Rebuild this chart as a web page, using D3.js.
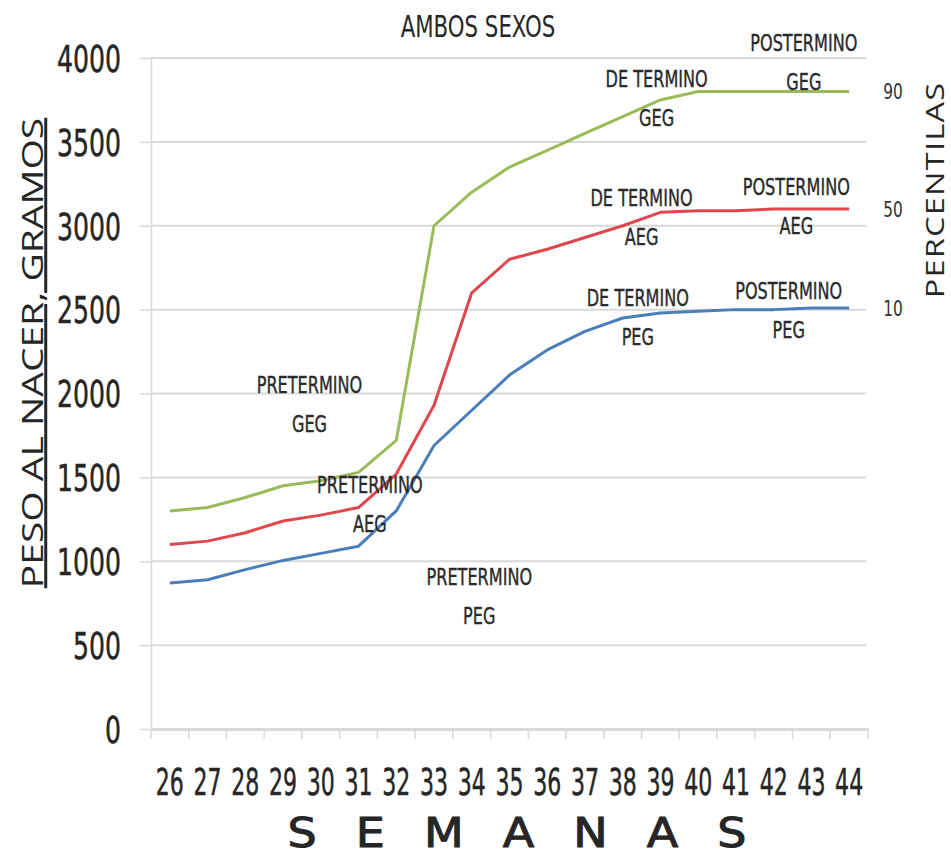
<!DOCTYPE html>
<html><head><meta charset="utf-8">
<script src="https://cdn.jsdelivr.net/npm/d3@7"></script>
<style>
body{margin:0;background:#fff;}
svg{display:block;}
</style></head>
<body><svg id="c" width="951" height="855"></svg>
<script>
const weeks = ["26","27","28","29","30","31","32","33","34","35","36","37","38","39","40","41","42","43","44"];
const p90 = [1300,1320,1380,1450,1480,1530,1720,3000,3200,3350,3450,3550,3650,3750,3800,3800,3800,3800,3800];
const p50 = [1100,1120,1170,1240,1275,1320,1520,1930,2600,2800,2860,2930,3000,3080,3090,3090,3100,3100,3100];
const p10 = [870,890,950,1005,1047,1090,1300,1690,1900,2110,2260,2370,2450,2480,2490,2500,2500,2510,2510];
const yTicks = [0,500,1000,1500,2000,2500,3000,3500,4000];
const seriesNames = ["90","50","10"];
const seriesColors = ["#9bbb59","#e0474c","#4a7ebb"];
const annLine1 = ["PRETERMINO","PRETERMINO","PRETERMINO","DE TERMINO","DE TERMINO","DE TERMINO","POSTERMINO","POSTERMINO","POSTERMINO"];
const annLine2 = ["GEG","AEG","PEG","GEG","AEG","PEG","GEG","AEG","PEG"];
const annWeek = [29.7,31.3,34.2,38.9,38.5,38.4,42.8,42.6,42.4];
const annValue = [2050,1452,905,3875,3167,2571,4089,3232,2613];

const FONT = "'DejaVu Sans',sans-serif";
const svg = d3.select("#c");
const x = d3.scaleBand().domain(weeks).range([151,868]);
const y = d3.scaleLinear().domain([0,4000]).range([729,58]);
const xc = w => { const f = Math.floor(w); return x(String(f)) + x.bandwidth()/2 + (w-f)*x.step(); };

function squeeze(sel, sx){
  sel.each(function(){
    const t = d3.select(this);
    const xx = +t.attr("x")||0, yy = +t.attr("y")||0;
    t.attr("transform", `translate(${xx},${yy}) scale(${sx},1) translate(${-xx},${-yy})`);
  });
}

// gridlines
svg.append("g").selectAll("line").data(yTicks.filter(d=>d>0)).join("line")
  .attr("x1",151).attr("x2",866).attr("y1",d=>y(d)).attr("y2",d=>y(d))
  .attr("stroke","#d9d9d9").attr("stroke-width",2);

// y axis
const ya = svg.append("g").attr("transform","translate(151,0)")
  .call(d3.axisLeft(y).tickValues(yTicks).tickFormat(d3.format("d")).tickSize(11).tickSizeOuter(0).tickPadding(12));
ya.select(".domain").attr("stroke","#d9d9d9").attr("stroke-width",1.5);
ya.selectAll(".tick line").attr("stroke","#d9d9d9").attr("stroke-width",1.5);
ya.selectAll("text").attr("font-family",FONT).attr("font-size",37).attr("fill","#262626")
  .attr("stroke","#262626").attr("stroke-width",0.5)
  .attr("transform","scale(0.68,1)").attr("x",-30/0.68).attr("dy","0.36em");

// x axis
const xa = svg.append("g").attr("transform","translate(0,729)")
  .call(d3.axisBottom(x).tickSize(0).tickPadding(39));
xa.select(".domain").attr("stroke","#d9d9d9").attr("stroke-width",3);
xa.selectAll("text").attr("font-family",FONT).attr("font-size",38).attr("fill","#262626")
  .attr("stroke","#262626").attr("stroke-width",0.5)
  .attr("transform","scale(0.58,1)");
svg.append("g").selectAll("line").data(weeks.concat(["end"])).join("line")
  .attr("x1",(d,i)=>151+i*x.step()).attr("x2",(d,i)=>151+i*x.step())
  .attr("y1",729).attr("y2",739).attr("stroke","#d9d9d9").attr("stroke-width",1.5);

// lines
const line = d3.line().x((d,i)=>x(weeks[i])+x.bandwidth()/2).y(d=>y(d));
[p90,p50,p10].forEach((s,k)=>{
  svg.append("path").datum(s).attr("d",line).attr("fill","none")
    .attr("stroke",seriesColors[k]).attr("stroke-width",3).attr("stroke-linejoin","round");
  const t = svg.append("text").attr("x",893).attr("y",y(s[s.length-1])).attr("dy","0.35em")
    .attr("font-family",FONT).attr("text-anchor","middle").attr("font-size",22).attr("fill","#333").text(seriesNames[k]);
  squeeze(t,0.7);
});

// annotations
const ag = svg.append("g").attr("font-family",FONT).attr("font-size",23).attr("fill","#2a2a2a")
  .attr("stroke","#2a2a2a").attr("stroke-width",0.4).attr("text-anchor","middle");
annLine1.forEach((t,i)=>{
  squeeze(ag.append("text").attr("x",xc(annWeek[i])).attr("y",y(annValue[i])).attr("dy","0.35em").text(t),0.7);
  squeeze(ag.append("text").attr("x",xc(annWeek[i])).attr("y",y(annValue[i])+39).attr("dy","0.35em").text(annLine2[i]),0.7);
});

// titles
squeeze(svg.append("text").attr("x",478).attr("y",27).attr("dy","0.35em").attr("font-family",FONT)
  .attr("text-anchor","middle").attr("font-size",30).attr("fill","#262626").text("AMBOS SEXOS"),0.71);
svg.append("text").attr("transform","translate(32,353) rotate(-90) scale(1.3,1)").attr("dy","0.35em")
  .attr("text-anchor","middle").attr("font-family","'Open Sans',sans-serif").attr("font-size",30)
  .attr("fill","#262626").attr("text-decoration","underline").text("PESO AL NACER, GRAMOS");
svg.append("text").attr("transform","translate(935,190) rotate(-90) scale(1.25,1)").attr("dy","0.35em")
  .attr("text-anchor","middle").attr("font-family","'Open Sans',sans-serif").attr("font-size",26)
  .attr("fill","#262626").attr("letter-spacing",1).text("PERCENTILAS");
svg.append("text").attr("x",517+17).attr("y",833).attr("dy","0.35em")
  .attr("text-anchor","middle").attr("font-family","'DejaVu Sans',sans-serif").attr("font-size",40)
  .attr("fill","#262626").attr("stroke","#262626").attr("stroke-width",1)
  .attr("letter-spacing",34).attr("transform","translate(517,833) scale(1.15,1) translate(-517,-833)").text("SEMANAS");
</script></body></html>
